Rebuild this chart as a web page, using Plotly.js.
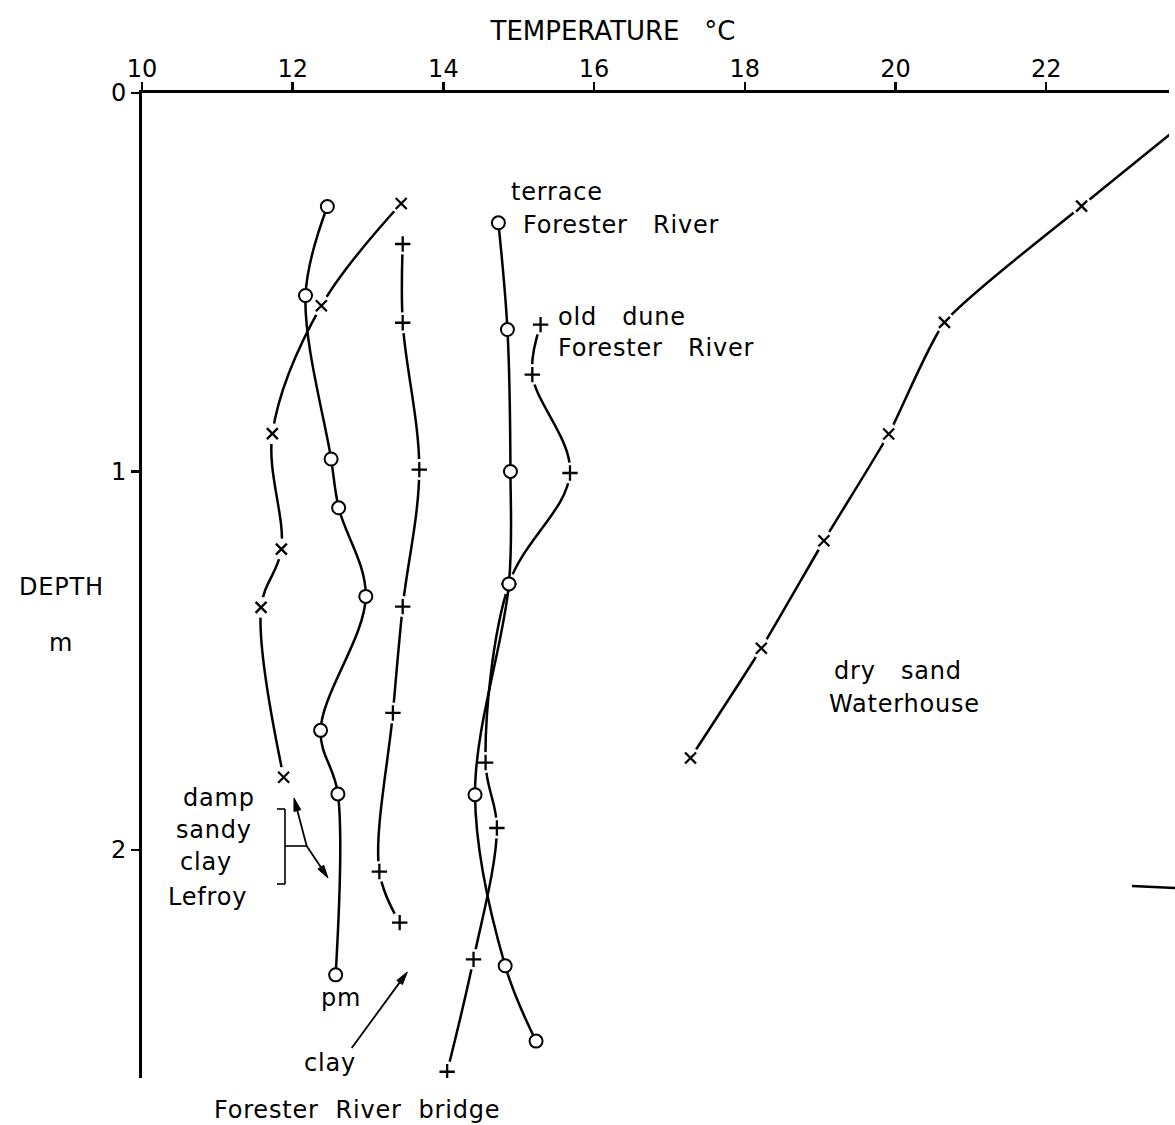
<!DOCTYPE html>
<html>
<head>
<meta charset="utf-8">
<script src="https://cdn.plot.ly/plotly-3.0.1.min.js"></script>
<style>
html,body{margin:0;padding:0;background:#fff;}
#chart{width:1175px;height:1125px;}
.annotation-text{letter-spacing:0.8px;}
</style>
</head>
<body>
<div id="chart"></div>
<script>
// ---- data (temperature °C, depth m) ----
const tempTicks = [10, 12, 14, 16, 18, 20, 22];
const depthTicks = [0, 1, 2];

// damp sandy clay, Lefroy (crosses)
const lefroyAmTemp  = [13.44, 12.38, 11.73, 11.85, 11.58, 11.88];
const lefroyAmDepth = [0.292, 0.562, 0.900, 1.205, 1.359, 1.808];

// damp sandy clay, Lefroy, pm (circles)
const lefroyPmTemp  = [12.46, 12.17, 12.51, 12.61, 12.97, 12.37, 12.60, 12.57];
const lefroyPmDepth = [0.300, 0.535, 0.967, 1.096, 1.330, 1.684, 1.852, 2.330];

// clay, Forester River bridge (plus)
const clayTemp  = [13.46, 13.46, 13.68, 13.46, 13.33, 13.15, 13.42];
const clayDepth = [0.399, 0.607, 0.995, 1.357, 1.638, 2.057, 2.192];

// old dune, Forester River (plus); the 1.30 m reading sits under the terrace circle
const duneTemp  = [15.29, 15.18, 15.68, 14.87, 14.56, 14.71, 14.40, 14.05];
const duneDepth = [0.612, 0.744, 1.004, 1.297, 1.769, 1.942, 2.289, 2.586];

// terrace, Forester River (circles)
const terraceTemp  = [14.73, 14.85, 14.89, 14.87, 14.42, 14.82, 15.23];
const terraceDepth = [0.343, 0.625, 1.000, 1.297, 1.854, 2.306, 2.505];

// dry sand, Waterhouse (crosses); first point lies beyond the right edge
const waterTemp  = [24.2, 22.47, 20.65, 19.91, 19.05, 18.22, 17.28];
const waterDepth = [0.02, 0.299, 0.606, 0.901, 1.183, 1.467, 1.757];

// ---- geometry helpers (pixel -> paper) ----
const PL = 142, PR = 1169, PT = 93, PB = 1078;
const px = v => (v - PL) / (PR - PL);
const py = v => (PB - v) / (PB - PT);

const FONT = 'DejaVu Sans, sans-serif';
const BLACK = '#000';
const traces = [];

function addSeries(t, d, kind, smooth) {
  traces.push({x: t, y: d, type: 'scatter', mode: 'lines',
    line: {color: BLACK, width: 2.5, shape: 'spline', smoothing: smooth},
    hoverinfo: 'skip', showlegend: false});
  if (kind === 'circle') {
    traces.push({x: t, y: d, type: 'scatter', mode: 'markers',
      marker: {symbol: 'circle', size: 13, color: '#fff', line: {color: BLACK, width: 2}},
      showlegend: false});
  } else {
    traces.push({x: t, y: d, type: 'scatter', mode: 'markers',
      marker: {symbol: 'circle', size: 21, color: '#fff', line: {width: 0}},
      hoverinfo: 'skip', showlegend: false});
    traces.push({x: t, y: d, type: 'scatter', mode: 'markers',
      marker: {symbol: kind === 'x' ? 'x-thin' : 'cross-thin', size: 11,
               color: BLACK, line: {color: BLACK, width: 2.3}},
      showlegend: false});
  }
}
addSeries(lefroyAmTemp, lefroyAmDepth, 'x', 1);
addSeries(lefroyPmTemp, lefroyPmDepth, 'circle', 1);
addSeries(clayTemp, clayDepth, 'plus', 1);
addSeries(duneTemp, duneDepth, 'plus', 1);
addSeries(terraceTemp, terraceDepth, 'circle', 1);
addSeries(waterTemp, waterDepth, 'x', 0.55);

const NB = '\u00a0';
function label(text, x, y, anchor) {
  return {text: text, xref: 'paper', yref: 'paper', x: px(x), y: py(y),
    xanchor: anchor || 'left', yanchor: 'middle', showarrow: false,
    font: {family: FONT, size: 24, color: BLACK}};
}
const annotations = [
  label('terrace', 509, 192),
  label('Forester' + NB + NB + NB + 'River', 521, 225),
  label('old' + NB + NB + NB + 'dune', 556, 317),
  label('Forester' + NB + NB + NB + 'River', 556, 348),
  label('dry' + NB + NB + NB + 'sand', 832, 671),
  label('Waterhouse', 827, 704),
  label('damp', 219, 798, 'center'),
  label('sandy', 214, 830, 'center'),
  label('clay', 206, 862, 'center'),
  label('Lefroy', 207, 897, 'center'),
  label('pm', 341, 998, 'center'),
  label('clay', 330, 1063, 'center'),
  label('Forester' + NB + NB + 'River' + NB + NB + 'bridge', 357, 1110, 'center'),
  label('DEPTH', 61, 587, 'center'),
  label('m', 61, 643, 'center')
];

function seg(x0, y0, x1, y1, w) {
  return {type: 'line', xref: 'paper', yref: 'paper', x0: px(x0), y0: py(y0), x1: px(x1), y1: py(y1),
    line: {color: BLACK, width: w || 1.6}};
}
function arrowShapes(tx, ty, hx, hy) {
  const len = Math.hypot(hx - tx, hy - ty);
  const ux = (hx - tx) / len, uy = (hy - ty) / len;
  const L = 13, W = 7;
  const bx = hx - ux * L, by = hy - uy * L;
  const nx = -uy * W / 2, ny = ux * W / 2;
  const p = (a, b) => px(a) + ',' + py(b);
  return [
    seg(tx, ty, bx + ux * 2, by + uy * 2, 1.8),
    {type: 'path', xref: 'paper', yref: 'paper',
     path: 'M' + p(hx, hy) + ' L' + p(bx + nx, by + ny) + ' L' + p(bx - nx, by - ny) + ' Z',
     fillcolor: BLACK, line: {color: BLACK, width: 1}}
  ];
}
const shapes = [
  seg(277, 809, 285, 809), seg(285, 809, 285, 884), seg(277, 884, 285, 884), seg(285, 846, 306.7, 846),
  seg(1132, 886, 1175, 888, 2.5),
  ...arrowShapes(306.7, 846, 294, 798),
  ...arrowShapes(306.7, 846, 328, 878),
  ...arrowShapes(351.7, 1048, 407.3, 972)
];

const layout = {
  width: 1175, height: 1125,
  margin: {l: PL, r: 1175 - PR, t: PT, b: 1125 - PB, pad: 0},
  paper_bgcolor: '#fff', plot_bgcolor: '#fff',
  font: {family: FONT, color: BLACK, size: 24},
  title: {text: 'TEMPERATURE' + NB + NB + NB + '°C', x: 613 / 1175, y: 1 - 31 / 1125,
          xanchor: 'center', yanchor: 'middle', font: {family: FONT, size: 26, color: BLACK}},
  xaxis: {side: 'top', range: [10, 23.63], tickvals: tempTicks, ticktext: tempTicks.map(String),
    ticks: 'outside', ticklen: 8, tickwidth: 2.5, tickcolor: BLACK, ticklabelstandoff: -5,
    showline: true, linewidth: 3, linecolor: BLACK, showgrid: false, zeroline: false,
    tickfont: {family: FONT, size: 24, color: BLACK}},
  yaxis: {range: [2.6025, 0], tickvals: depthTicks, ticktext: depthTicks.map(String),
    ticks: 'outside', ticklen: 8, tickwidth: 2.5, tickcolor: BLACK,
    showline: true, linewidth: 3, linecolor: BLACK, showgrid: false, zeroline: false,
    tickfont: {family: FONT, size: 24, color: BLACK}},
  annotations: annotations,
  shapes: shapes,
  showlegend: false
};

Plotly.newPlot('chart', traces, layout, {staticPlot: true}).then(function (gd) {
  // drop empty placeholder text nodes (e.g. unused axis titles)
  gd.querySelectorAll('text').forEach(function (el) {
    if (!el.textContent || !el.textContent.trim()) el.remove();
  });
});
</script>
</body>
</html>
